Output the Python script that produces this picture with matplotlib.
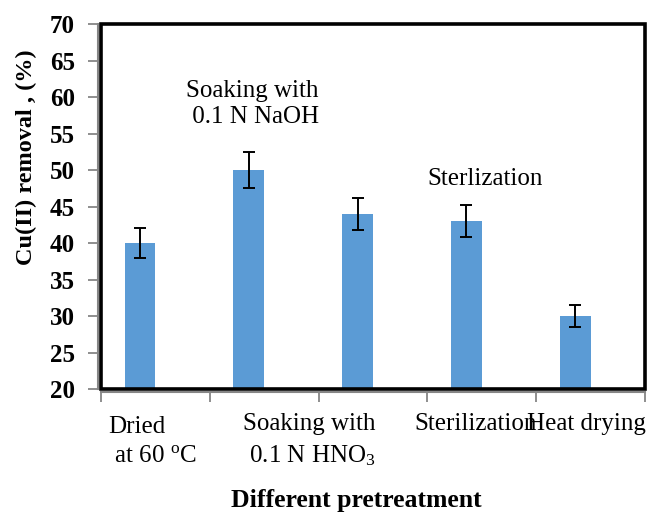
import matplotlib
matplotlib.use("Agg")
import matplotlib.pyplot as plt
from matplotlib.patches import Rectangle

plt.rcParams['font.family'] = ['Liberation Serif', 'DejaVu Serif']
plt.rcParams['font.weight'] = 'bold'   # tick numbers are bold, other texts set normal below
plt.rcParams['mathtext.fontset'] = 'custom'
plt.rcParams['mathtext.rm'] = 'Liberation Serif:weight=normal'
plt.rcParams['mathtext.it'] = 'Liberation Serif:italic:weight=normal'
plt.rcParams['mathtext.bf'] = 'Liberation Serif:bold'

# data
treatments = ["Dried at 60 oC", "Soaking with 0.1 N NaOH", "Soaking with 0.1 N HNO3",
              "Sterilization", "Heat drying"]
removal = [40, 50, 44, 43, 30]
removal_err = [2.0, 2.5, 2.2, 2.15, 1.5]
y_ticks = [20, 25, 30, 35, 40, 45, 50, 55, 60, 65, 70]
tick_labels = ["Dried\n at 60 $^{\\rm o}$C", "Soaking with\n 0.1 N HNO$_{\\rm 3}$",
               "Sterilization", "Heat drying"]
tick_label_x = [-0.436, 0.803, 2.381, 3.417]
notes = ["Soaking with\n 0.1 N NaOH", "Sterlization"]
note_xy = [(0.28, 56.45), (2.5, 48.0)]

BAR_COLOR = '#5B9BD5'
AXIS_GRAY = '#868686'

fig = plt.figure(figsize=(6.53, 5.12), dpi=100)
ax = fig.add_axes([0.1547, 0.2402, 0.9877 - 0.1547, 0.953 - 0.2402])

xs = list(range(len(removal)))
bar_w = 0.284
ax.bar([x - bar_w / 2 for x in xs], removal, width=bar_w, color=BAR_COLOR,
       bottom=0, zorder=2)
ax.errorbar([x - bar_w / 2 for x in xs], removal, yerr=removal_err, fmt='none',
            ecolor='black', elinewidth=1.4, capsize=4.6, capthick=1.4, zorder=3)

ax.set_ylim(20, 70)
ax.set_xlim(-0.5, 4.5)
ax.set_yticks(y_ticks)
ax.set_xticks([x - 0.5 for x in range(len(removal) + 1)])
ax.set_xticklabels([])
ax.tick_params(axis='y', labelsize=18, length=7, width=1.3, color=AXIS_GRAY, pad=10)
ax.tick_params(axis='x', length=7, width=1.3, color=AXIS_GRAY)

for s in ['top', 'right']:
    ax.spines[s].set_visible(False)
for s in ['left', 'bottom']:
    ax.spines[s].set_color(AXIS_GRAY)
    ax.spines[s].set_linewidth(1.5)
    ax.spines[s].set_position(('outward', 2))
ax.add_patch(Rectangle((0, 0), 1, 1, transform=ax.transAxes, fill=False,
                       edgecolor='black', lw=2.6, clip_on=False, zorder=4))

# category labels (placed like the original, left aligned); baseline = last line
for lab, x in zip(tick_labels, tick_label_x):
    y = -0.2 if '\n' in lab else -0.112
    ax.text(x, y, lab, transform=ax.get_xaxis_transform(), ha='left',
            va='baseline', fontsize=18, fontweight='normal', linespacing=1.41)

for note, (x, y) in zip(notes, note_xy):
    ax.text(x, y, note, ha='left', va='baseline', fontsize=18,
            fontweight='normal', linespacing=1.23)

fig.text(26 / 653, 1 - 157 / 512, "Cu(II) removal , (%)", rotation=90,
         ha='center', va='center', fontsize=17.5, fontweight='bold')
fig.text(356 / 653, 1 - 507 / 512, "Different pretreatment", ha='center',
         va='baseline', fontsize=18.5, fontweight='bold')

fig.savefig('out.png', dpi=100, facecolor='white')
